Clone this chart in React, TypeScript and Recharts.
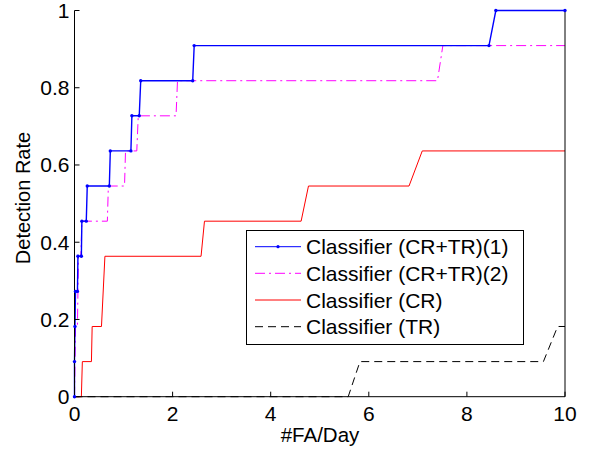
import React from 'react';
import { LineChart, Line, XAxis, YAxis, Legend, Customized } from 'recharts';

// ---- Data ----
const xTicks = [0, 2, 4, 6, 8, 10];
const yTicks = [0, 0.2, 0.4, 0.6, 0.8, 1];
const yTickLabels = ['0', '0.2', '0.4', '0.6', '0.8', '1'];

const seriesNames = [
  'Classifier (CR+TR)(1)',
  'Classifier (CR+TR)(2)',
  'Classifier (CR)',
  'Classifier (TR)',
];

const crtr1X = [0, 0, 0.01, 0.02, 0.06, 0.07, 0.14, 0.15, 0.24, 0.26, 0.71, 0.73, 1.15, 1.17, 1.32, 1.35, 2.41, 2.44, 8.45, 8.59, 10];
const crtr1Y = [0, 0.0909, 0.1818, 0.2727, 0.2727, 0.3636, 0.3636, 0.4545, 0.4545, 0.5455, 0.5455, 0.6364, 0.6364, 0.7273, 0.7273, 0.8182, 0.8182, 0.9091, 0.9091, 1, 1];

const crtr2X = [0, 0.02, 0.06, 0.08, 0.13, 0.15, 0.67, 0.69, 1.02, 1.04, 1.27, 1.3, 2.07, 2.1, 7.4, 7.51, 10];
const crtr2Y = [0, 0.1818, 0.1818, 0.3636, 0.3636, 0.4545, 0.4545, 0.5455, 0.5455, 0.6364, 0.6364, 0.7273, 0.7273, 0.8182, 0.8182, 0.9091, 0.9091];

const crX = [0, 0.14, 0.16, 0.345, 0.36, 0.55, 0.62, 2.58, 2.65, 4.62, 4.77, 6.82, 7.09, 10];
const crY = [0, 0, 0.0909, 0.0909, 0.1818, 0.1818, 0.3636, 0.3636, 0.4545, 0.4545, 0.5455, 0.5455, 0.6364, 0.6364];

const trX = [0, 5.58, 5.82, 9.56, 9.85, 10];
const trY = [0, 0, 0.0909, 0.0909, 0.1818, 0.1818];

const zip = (xs: number[], ys: number[]) => xs.map((x, i) => ({ x, y: ys[i] }));

const data1 = zip(crtr1X, crtr1Y);
const data2 = zip(crtr2X, crtr2Y);
const data3 = zip(crX, crY);
const data4 = zip(trX, trY);

const FONT = '"Liberation Sans", Arial, Helvetica, sans-serif';

const styles = [
  { color: '#0000FF', dash: undefined as string | undefined, dot: true },
  { color: '#FF00FF', dash: '10 4 2 4', dot: false },
  { color: '#FF0000', dash: undefined as string | undefined, dot: false },
  { color: '#000000', dash: '8 5', dot: false },
];

const LegendBox = () => {
  const rowY = [16.7, 43.3, 70, 96.7];
  return (
    <svg width={279} height={116} style={{ display: 'block' }}>
      <rect x={0.5} y={0.5} width={277} height={114} fill="#fff" stroke="#000" strokeWidth={1} />
      {seriesNames.map((n, i) => (
        <g key={n}>
          <line
            x1={9}
            x2={55}
            y1={rowY[i]}
            y2={rowY[i]}
            stroke={styles[i].color}
            strokeWidth={1}
            strokeDasharray={styles[i].dash}
          />
          {styles[i].dot && <circle cx={32} cy={rowY[i]} r={1.6} fill={styles[i].color} />}
          <text x={60} y={rowY[i] + 7.5} fontSize={21} fontFamily={FONT} fill="#000">
            {n}
          </text>
        </g>
      ))}
    </svg>
  );
};

const AxisTitles = () => (
  <g>
    <text x={320} y={442.3} textAnchor="middle" fontSize={20.5} fontFamily={FONT} fill="#000">
      #FA/Day
    </text>
    <text
      x={30}
      y={198}
      textAnchor="middle"
      fontSize={20}
      fontFamily={FONT}
      fill="#000"
      transform="rotate(-90, 30, 198)"
    >
      Detection Rate
    </text>
  </g>
);

export default function App() {
  const tickStyle = { fontSize: 21, fill: '#000', fontFamily: FONT };
  return (
    <div style={{ position: 'absolute', left: 0, top: 0 }}>
      <LineChart
        width={589}
        height={455}
        margin={{ top: 10.5, right: 0, bottom: 0, left: 0 }}
        style={{ fontFamily: FONT, background: '#fff' }}
      >
        <XAxis
          dataKey="x"
          type="number"
          domain={[0, 10]}
          ticks={xTicks}
          interval={0}
          height={58.3}
          tickSize={-5}
          tickMargin={14}
          tick={tickStyle}
          axisLine={{ stroke: '#000' }}
          tickLine={{ stroke: '#000' }}
          allowDuplicatedCategory={false}
        />
        <XAxis
          xAxisId="top"
          orientation="top"
          dataKey="x"
          type="number"
          domain={[0, 10]}
          ticks={xTicks}
          interval={0}
          height={0}
          tickSize={-5}
          tickFormatter={() => ''}
          axisLine={{ stroke: '#000' }}
          tickLine={{ stroke: '#000' }}
        />
        <YAxis
          type="number"
          domain={[0, 1]}
          ticks={yTicks}
          interval={0}
          width={74.5}
          tickSize={-5}
          tickMargin={10}
          tick={tickStyle}
          tickFormatter={(v: number) => yTickLabels[yTicks.indexOf(v)] ?? String(v)}
          axisLine={{ stroke: '#000' }}
          tickLine={{ stroke: '#000' }}
        />
        <YAxis
          yAxisId="right"
          orientation="right"
          type="number"
          domain={[0, 1]}
          ticks={yTicks}
          interval={0}
          width={24}
          tickSize={-5}
          tickFormatter={() => ''}
          axisLine={{ stroke: '#000' }}
          tickLine={{ stroke: '#000' }}
        />
        <Line
          data={data4}
          dataKey="y"
          name={seriesNames[3]}
          type="linear"
          stroke={styles[3].color}
          strokeWidth={1}
          strokeDasharray={styles[3].dash}
          dot={false}
          isAnimationActive={false}
        />
        <Line
          data={data3}
          dataKey="y"
          name={seriesNames[2]}
          type="linear"
          stroke={styles[2].color}
          strokeWidth={1}
          dot={false}
          isAnimationActive={false}
        />
        <Line
          data={data2}
          dataKey="y"
          name={seriesNames[1]}
          type="linear"
          stroke={styles[1].color}
          strokeWidth={1}
          strokeDasharray={styles[1].dash}
          dot={false}
          isAnimationActive={false}
        />
        <Line
          data={data1}
          dataKey="y"
          name={seriesNames[0]}
          type="linear"
          stroke={styles[0].color}
          strokeWidth={1.4}
          dot={{ r: 1.7, fill: '#0000FF', stroke: '#0000FF', strokeWidth: 0 }}
          isAnimationActive={false}
        />
        <Legend
          layout="vertical"
          align="center"
          verticalAlign="middle"
          content={() => <LegendBox />}
          wrapperStyle={{ position: 'absolute', left: 246, top: 230, width: 279, height: 116 }}
        />
        <Customized component={AxisTitles} />
      </LineChart>
    </div>
  );
}
